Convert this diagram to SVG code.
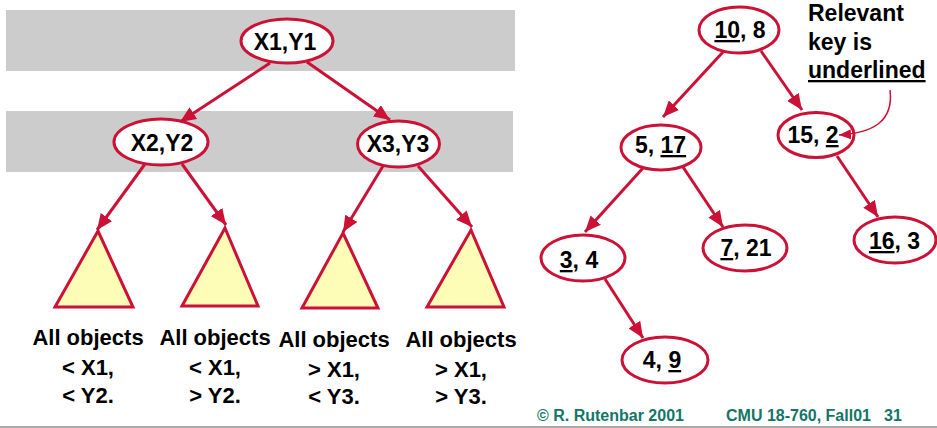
<svg xmlns="http://www.w3.org/2000/svg" width="937" height="428" viewBox="0 0 937 428">
  <defs>
    <marker id="arrow" markerUnits="userSpaceOnUse" markerWidth="16" markerHeight="14" viewBox="0 0 16 14" refX="16" refY="7" orient="auto">
      <path d="M0,0 L16,7 L0,14 Z" fill="#CC1136"/>
    </marker>
    <marker id="arrow-thin" markerUnits="userSpaceOnUse" markerWidth="12" markerHeight="10" viewBox="0 0 12 10" refX="12" refY="5" orient="auto">
      <path d="M0,0 L12,5 L0,10 Z" fill="#CC1136"/>
    </marker>
  </defs>
  <style>
    .band { fill: #CCCCCC; }
    .node ellipse { fill: #FFFFFF; stroke: #CC1136; stroke-width: 3; }
    .tri { fill: #FDFDB8; stroke: #CC1136; stroke-width: 3; stroke-linejoin: miter; }
    .key { font-family: "Liberation Sans", Arial, sans-serif; font-weight: bold; font-size: 23px; fill: #000; text-anchor: middle; }
    .lbl { font-family: "Liberation Sans", Arial, sans-serif; font-weight: bold; font-size: 22px; fill: #000; text-anchor: middle; }
    .note { font-family: "Liberation Sans", Arial, sans-serif; font-weight: bold; font-size: 23px; fill: #000; }
    .foot { font-family: "Liberation Sans", Arial, sans-serif; font-weight: bold; font-size: 16px; fill: #137566; }
    .u { text-decoration: underline; }
    .edge { stroke: #CC1136; stroke-width: 3; fill: none; marker-end: url(#arrow); }
    .pointer { stroke: #CC1136; stroke-width: 1.5; fill: none; marker-end: url(#arrow-thin); }
  </style>

  <!-- level bands -->
  <rect class="band" x="6" y="10" width="509" height="61"/>
  <rect class="band" x="6" y="111" width="507" height="61"/>

  <!-- connectors -->
  <g id="connectors">
    <line class="edge" x1="270" y1="63" x2="180" y2="122"/>
    <line class="edge" x1="307" y1="62" x2="390" y2="120"/>
    <line class="edge" x1="145" y1="164" x2="97" y2="230"/>
    <line class="edge" x1="182" y1="164" x2="226" y2="225"/>
    <line class="edge" x1="383" y1="166" x2="343" y2="232"/>
    <line class="edge" x1="418" y1="166" x2="472" y2="227"/>

    <line class="edge" x1="723" y1="52" x2="663" y2="117"/>
    <line class="edge" x1="761" y1="51" x2="802" y2="110"/>
    <line class="edge" x1="643" y1="168" x2="585" y2="232"/>
    <line class="edge" x1="683" y1="167" x2="723" y2="227"/>
    <line class="edge" x1="837" y1="156" x2="878" y2="217"/>
    <line class="edge" x1="605" y1="279" x2="643" y2="338"/>
  </g>

  <!-- kd-tree schematic -->
  <g id="node-x1y1" class="node">
    <ellipse cx="287" cy="41" rx="46" ry="22"/>
    <text class="key" x="285" y="50">X1,Y1</text>
  </g>
  <g id="node-x2y2" class="node">
    <ellipse cx="161" cy="142" rx="47" ry="23"/>
    <text class="key" x="162" y="151">X2,Y2</text>
  </g>
  <g id="node-x3y3" class="node">
    <ellipse cx="398.5" cy="144" rx="41" ry="23"/>
    <text class="key" x="398" y="152">X3,Y3</text>
  </g>

  <g id="subtree-1">
    <polygon class="tri" points="98,231 133,307 55,307"/>
    <text class="lbl" x="88" y="345">All objects</text>
    <text class="lbl" x="88" y="375">&lt; X1,</text>
    <text class="lbl" x="88" y="403">&lt; Y2.</text>
  </g>
  <g id="subtree-2">
    <polygon class="tri" points="225,228 258,306 182,306"/>
    <text class="lbl" x="215" y="345">All objects</text>
    <text class="lbl" x="215" y="375">&lt; X1,</text>
    <text class="lbl" x="215" y="403">&gt; Y2.</text>
  </g>
  <g id="subtree-3">
    <polygon class="tri" points="343,233 378,308 302,308"/>
    <text class="lbl" x="334" y="347">All objects</text>
    <text class="lbl" x="334" y="377">&gt; X1,</text>
    <text class="lbl" x="334" y="404">&lt; Y3.</text>
  </g>
  <g id="subtree-4">
    <polygon class="tri" points="471,230 504,307 427,307"/>
    <text class="lbl" x="461" y="347">All objects</text>
    <text class="lbl" x="461" y="377">&gt; X1,</text>
    <text class="lbl" x="461" y="404">&gt; Y3.</text>
  </g>

  <!-- example tree -->
  <g id="node-10-8" class="node">
    <ellipse cx="739" cy="30" rx="40" ry="23"/>
    <text class="key" x="740" y="38"><tspan class="u">10</tspan>, 8</text>
  </g>
  <g id="node-5-17" class="node">
    <ellipse cx="661" cy="147.5" rx="40" ry="22.5"/>
    <text class="key" x="660.5" y="153">5, <tspan class="u">17</tspan></text>
  </g>
  <g id="node-15-2" class="node">
    <ellipse cx="816" cy="135" rx="38" ry="22.5"/>
    <text class="key" x="813" y="143">15, <tspan class="u">2</tspan></text>
  </g>
  <g id="node-3-4" class="node">
    <ellipse cx="583" cy="258" rx="42" ry="23"/>
    <text class="key" x="579" y="268"><tspan class="u">3</tspan>, 4</text>
  </g>
  <g id="node-7-21" class="node">
    <ellipse cx="745" cy="248" rx="42" ry="23"/>
    <text class="key" x="746" y="256"><tspan class="u">7</tspan>, 21</text>
  </g>
  <g id="node-16-3" class="node">
    <ellipse cx="895" cy="240" rx="41" ry="23"/>
    <text class="key" x="894.5" y="249"><tspan class="u">16</tspan>, 3</text>
  </g>
  <g id="node-4-9" class="node">
    <ellipse cx="665" cy="360" rx="43" ry="23"/>
    <text class="key" x="662" y="368">4, <tspan class="u">9</tspan></text>
  </g>

  <!-- annotation with its pointer to the "2" key -->
  <g id="note">
    <text class="note" x="808" y="21">Relevant</text>
    <text class="note" x="808" y="50">key is</text>
    <text class="note" x="808" y="78"><tspan class="u">underlined</tspan></text>
    <path class="pointer" d="M890,90 C894,122 872,133 839,135"/>
  </g>

  <!-- footer -->
  <g id="footer">
    <text class="foot" x="537" y="421">© R. Rutenbar 2001</text>
    <text class="foot" x="726" y="421">CMU 18-760, Fall01</text>
    <text class="foot" x="884" y="421">31</text>
    <line x1="0" y1="427" x2="937" y2="427" stroke="#8C8C8C" stroke-width="1.5"/>
  </g>
</svg>
